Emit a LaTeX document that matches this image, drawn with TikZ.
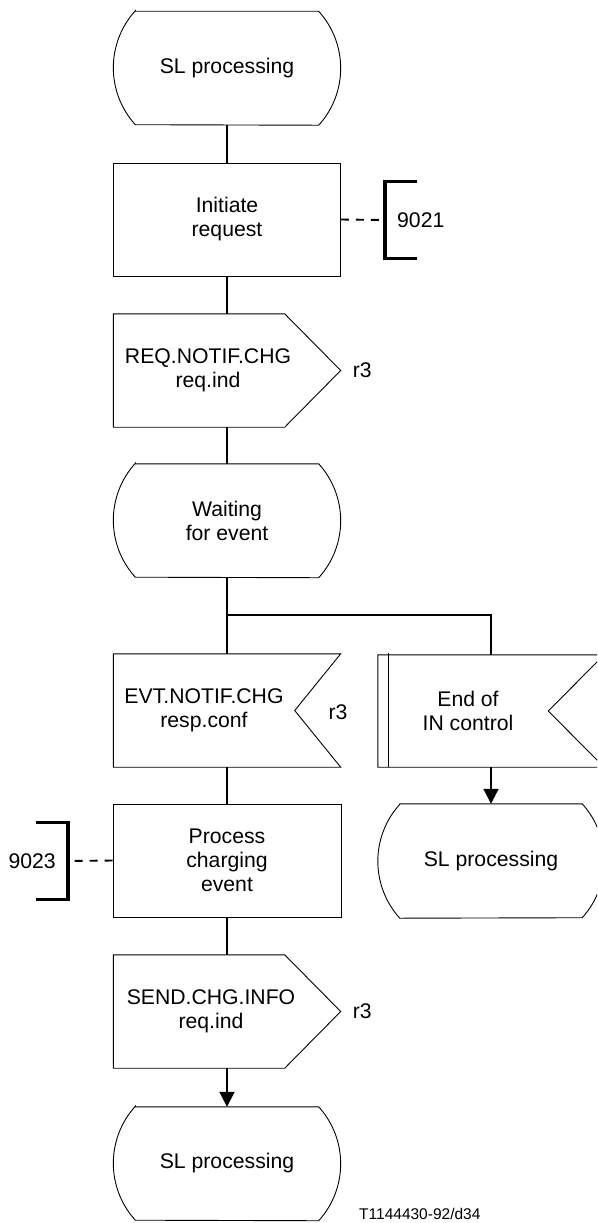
\documentclass[tikz,border=0pt]{standalone}
\usepackage{fontspec}
\setmainfont{Liberation Sans}
\usetikzlibrary{arrows.meta, positioning, calc}
\newcommand{\sdlfont}{\fontsize{21.2}{24}\selectfont}
\newcommand{\reffont}{\fontsize{15.5}{18}\selectfont}

\begin{document}
\begin{tikzpicture}[x=1pt, y=1pt, every node/.style={font=\sdlfont},
  outline/.style={draw, line width=0.9pt},
  sdlbase/.style={minimum width=227pt, minimum height=113pt, inner sep=0pt, align=center},
  statebox/.style={sdlbase},
  taskbox/.style={sdlbase, outline},
  sigbox/.style={sdlbase},
  sigtext/.style={align=center, font=\sdlfont, inner sep=0pt},
  flow/.style={line width=1.9pt},
  flowarrow/.style={flow, -{Triangle[length=15pt, width=15pt]}},
  reflink/.style={line width=1.9pt, dash pattern=on 8pt off 7pt},
  bracket/.style={line width=3.8pt, line join=miter},
  refnum/.style={inner sep=2pt}]
		\useasboundingbox (0,0) rectangle (597,-1223);
		\clip (0,0) rectangle (597,-1223);
		% Main column
		\node[statebox] (start) at (227,-68) {SL processing};
		\node[taskbox] (initreq) at (227,-219.5) {Initiate\\request};
		\node[sigbox, label={[sigtext, xshift=-19pt]center:{REQ.NOTIF.CHG\\req.ind}}] (req) at (227,-370.5) {};
		\node[statebox] (wait) at (227,-520.5) {Waiting\\for event};
		\coordinate (j) at (227,-615);
		\node[sigbox, label={[sigtext, xshift=-23pt]center:{EVT.NOTIF.CHG\\resp.conf}}] (evt) at (227,-710.5) {};
		\node[taskbox, minimum width=228pt] (proc) at (227,-860.5) {Process\\charging\\event};
		\node[sigbox, label={[sigtext, xshift=-16pt]center:{SEND.CHG.INFO\\req.ind}}] (send) at (227,-1011.5) {};
		\node[statebox] (slend) at (227,-1163.5) {SL processing};
		% Right branch
		\node[sigbox, minimum width=226pt, minimum height=112pt, label={[sigtext, xshift=-23pt]center:{End of\\IN control}}] (endin) at (491,-711) {};
		\node[statebox, minimum width=226pt, minimum height=114pt] (slr) at (491,-861) {SL processing};
		% State outlines
		\foreach \n in {start, wait, slend, slr}
			\draw[outline] ($(\n.north west)+(22,0)$) -- ($(\n.north east)+(-22,0)$)
				arc[start angle=42.2, end angle=-42.2, radius=84.8]
				-- ($(\n.south west)+(22,0)$)
				arc[start angle=222.2, end angle=137.8, radius=84.8] -- cycle;
		% Output signals
		\foreach \n in {req, send}
			\draw[outline] (\n.north west) -- ($(\n.north east)+(-56,0)$) -- (\n.east)
				-- ($(\n.south east)+(-56,0)$) -- (\n.south west) -- cycle;
		% Input signals
		\foreach \n/\d in {evt/46, endin/56}
			\draw[outline] (\n.north west) -- (\n.north east) -- ($(\n.east)+(-\d,0)$)
				-- (\n.south east) -- (\n.south west) -- cycle;
		\draw[outline] ($(endin.north west)+(11,2)$) -- ($(endin.south west)+(11,0)$);
		% Channel names
		\node[refnum, right=10pt of req.east] (r3a) {r3};
		\node[refnum] (r3b) at (338,-712) {r3};
		\node[refnum, right=10pt of send.east] (r3c) {r3};
		% Flow lines
		\draw[flow] (start.south) -- (initreq.north);
		\draw[flow] (initreq.south) -- (req.north);
		\draw[flow] (req.south) -- (wait.north);
		\draw[flow] (wait.south) -- (evt.north);
		\draw[flow] (j) -| (endin.north);
		\draw[flowarrow] (endin.south) -- (slr.north);
		\draw[flow] (evt.south) -- (proc.north);
		\draw[flow] (proc.south) -- (send.north);
		\draw[flowarrow] (send.south) -- (slend.north);
		% Comment brackets
		\coordinate (b1) at (385,-220);
		\draw[reflink] (initreq.east) -- (b1);
		\draw[bracket] ($(b1)+(32,38.5)$) -| ($(b1)+(0,-38.5)$) -- ++(32,0);
		\node[refnum, right=10pt of b1] (c9021) {9021};
		\coordinate (b2) at (68,-861);
		\draw[reflink] (proc.west) -- (b2);
		\draw[bracket] ($(b2)+(-32,38.5)$) -| ($(b2)+(0,-38.5)$) -- ++(-32,0);
		\node[refnum, left=10pt of b2] (c9023) {9023};
		% Figure reference
		\node[anchor=base west, inner sep=0pt, font=\reffont] (figref) at (359,-1219) {T1144430-92/d34};
	\end{tikzpicture}
\end{document}
